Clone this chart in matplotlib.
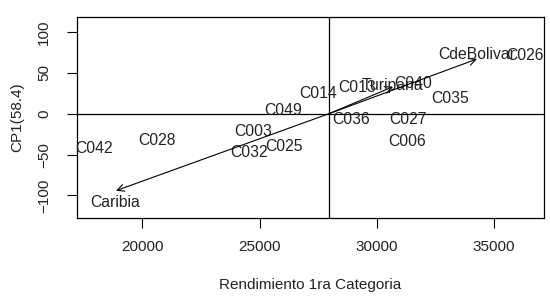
import matplotlib
matplotlib.use("Agg")
import matplotlib.pyplot as plt

plt.rcParams['font.family'] = ['Liberation Sans', 'DejaVu Sans']

# genotype labels (position = yield, CP1 score)
genotypes = ['C042', 'C028', 'C003', 'C032', 'C025', 'C049', 'C014', 'C013',
             'C036', 'C040', 'C027', 'C006', 'C035', 'C026']
gen_x = [17950, 20640, 24730, 24535, 26050, 26010, 27500, 29140,
         28910, 31550, 31340, 31270, 33115, 36310]
gen_y = [-42.3, -32.2, -22.0, -47.7, -40.3, 3.7, 24.9, 32.3,
         -6.8, 37.2, -6.8, -34.2, 18.8, 71.5]

# environments: arrow tips and label positions
environments = ['Caribia', 'Turipana', 'CdeBolivar']
env_x = [18880, 30690, 34270]
env_y = [-94.1, 33.0, 66.9]
env_lab_x = [18840, 30665, 34270]
env_lab_y = [-108.0, 33.9, 72.9]

mean_yield = 27960

fig = plt.figure(figsize=(5.5, 2.97), dpi=100)
ax = fig.add_axes([0.1405, 0.266, 0.8485, 0.6768])

ax.axvline(mean_yield, color='black', lw=0.9)
ax.axhline(0, color='black', lw=0.9)

for name, x, y in zip(genotypes, gen_x, gen_y):
    ax.text(x, y, name, ha='center', va='center', fontsize=11.3, color='#222222')

for name, x, y, lx, ly in zip(environments, env_x, env_y, env_lab_x, env_lab_y):
    ax.annotate('', xy=(x, y), xytext=(mean_yield, 0),
                arrowprops=dict(arrowstyle='->,head_length=0.5,head_width=0.25',
                                color='black', lw=0.8, shrinkA=0, shrinkB=0))
    ax.text(lx, ly, name, ha='center', va='center', fontsize=11.3, color='#222222')

ax.set_xlim(17229, 37123)
ax.set_ylim(-127.5, 118.2)
ax.set_xticks([20000, 25000, 30000, 35000])
ax.set_yticks([-100, -50, 0, 50, 100])
ax.tick_params(axis='both', direction='out', length=7, width=0.8,
               labelsize=11, labelcolor='#222222')
ax.tick_params(axis='x', pad=9)
ax.tick_params(axis='y', pad=12)
for lab in ax.get_yticklabels():
    lab.set_rotation(90)
    lab.set_va('center')
for sp in ax.spines.values():
    sp.set_linewidth(0.9)

ax.set_xlabel('Rendimiento 1ra Categoria', fontsize=11, color='#222222', labelpad=17)
ax.set_ylabel('CP1(58.4)', fontsize=11, color='#222222', labelpad=9)

fig.savefig('out.png', dpi=100)
